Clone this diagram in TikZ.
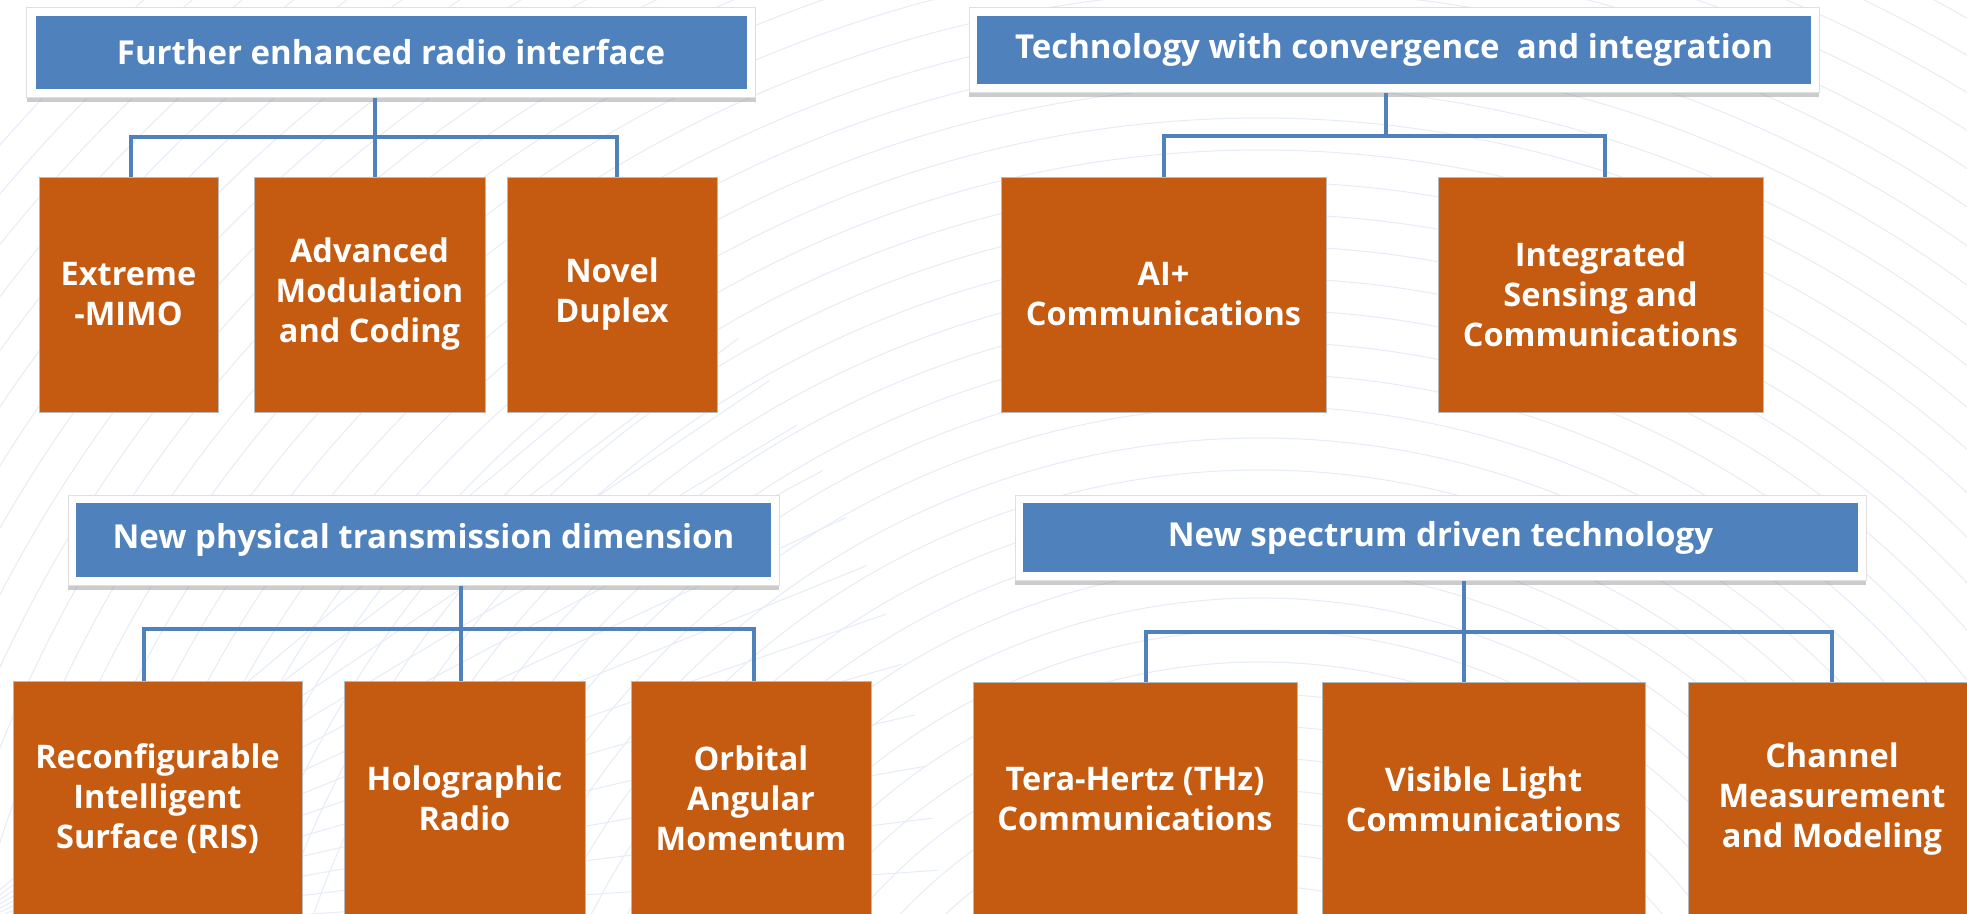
\documentclass[tikz,border=0pt]{standalone}
\usepackage{fontspec}
\setmainfont{Open Sans}
\usetikzlibrary{shadows}

\definecolor{hdrblue}{HTML}{4F81BD}
\definecolor{techorange}{HTML}{C55A11}
\definecolor{wave}{HTML}{E6ECF7}

\begin{document}
\begin{tikzpicture}[x=1pt, y=-1pt,
  frame/.style={rectangle, fill=white, draw=gray!25, line width=1pt,
    drop shadow={shadow xshift=0pt, shadow yshift=-5pt, opacity=0.4}},
  hdr/.style={rectangle, fill=hdrblue, text=white, align=center,
    font=\fontsize{33}{40}\selectfont\bfseries, inner sep=0pt},
  tech/.style={rectangle, fill=techorange, draw=gray!55, line width=0.8pt,
    text=white, align=center, minimum height=235pt, inner sep=0pt,
    font=\fontsize{32.5}{40}\selectfont\bfseries},
  conn/.style={draw=hdrblue, line width=4pt},
  wavy/.style={draw=wave, line width=1pt},
]
\useasboundingbox (0,0) rectangle (1967,913);
\fill[white] (0,0) rectangle (1967,913);

% Faint background waves
\begin{scope}
  \clip (0,0) rectangle (1967,913);
  \foreach \r in {300,332,...,1700}
    \draw[wavy] (1260,1250) circle[radius=\r];
  \foreach \a in {4,7,...,40}
    \draw[wavy] (-60,940) -- ++(-\a:1000);
\end{scope}

% Further enhanced radio interface
\node[frame, minimum width=729pt, minimum height=90pt] (fTL) at (391,52) {};
\node[hdr, minimum width=711pt, minimum height=73pt] (hTL) at (fTL)
  {Further enhanced radio interface};
\node[tech, minimum width=179pt] (tl1) at (128.5,294.5) {Extreme\\-MIMO};
\node[tech, minimum width=231pt] (tl2) at (369.5,294.5) {Advanced\\Modulation\\and Coding};
\node[tech, minimum width=210pt] (tl3) at (612,294.5) {Novel\\Duplex};

% Technology with convergence and integration
\node[frame, minimum width=850pt, minimum height=85pt] (fTR) at (1394,49.5) {};
\node[hdr, minimum width=834pt, minimum height=68pt] (hTR) at (fTR)
  {Technology with convergence \ and integration};
\node[tech, minimum width=325pt] (tr1) at (1163.5,294.5) {AI+\\Communications};
\node[tech, minimum width=325pt] (tr2) at (1600.5,294.5) {Integrated\\Sensing and\\Communications};

% New physical transmission dimension
\node[frame, minimum width=711pt, minimum height=90pt] (fBL) at (423.5,540) {};
\node[hdr, minimum width=695pt, minimum height=74pt] (hBL) at (fBL)
  {New physical transmission dimension};
\node[tech, minimum width=289pt] (bl1) at (157.5,798.5) {Reconfigurable\\Intelligent\\Surface (RIS)};
\node[tech, minimum width=241pt] (bl2) at (464.5,798.5) {Holographic\\Radio};
\node[tech, minimum width=240pt] (bl3) at (751,798.5) {Orbital\\Angular\\Momentum};

% New spectrum driven technology
\node[frame, minimum width=851pt, minimum height=85pt] (fBR) at (1440.5,537.5) {};
\node[hdr, minimum width=835pt, minimum height=69pt] (hBR) at (fBR)
  {New spectrum driven technology};
\node[tech, minimum width=324pt] (br1) at (1135,799.5) {Tera-Hertz (THz)\\Communications};
\node[tech, minimum width=323pt] (br2) at (1483.5,799.5) {Visible Light\\Communications};
\node[tech, minimum width=288pt] (br3) at (1832,799.5) {Channel\\Measurement\\and Modeling};

% Tree connectors
\coordinate (jTL) at (375,137);
\coordinate (lTL) at (131,137);
\coordinate (rTL) at (617,137);
\draw[conn] (fTL.south -| jTL) -- (jTL |- tl2.north);
\draw[conn] (lTL |- tl1.north) -- (lTL) -- (rTL) -- (rTL |- tl3.north);

\coordinate (jTR) at (1386,136);
\coordinate (lTR) at (1164,136);
\coordinate (rTR) at (1605,136);
\draw[conn] (fTR.south -| jTR) -- (jTR);
\draw[conn] (lTR |- tr1.north) -- (lTR) -- (rTR) -- (rTR |- tr2.north);

\coordinate (jBL) at (461,629);
\coordinate (lBL) at (144,629);
\coordinate (rBL) at (754,629);
\draw[conn] (fBL.south -| jBL) -- (jBL |- bl2.north);
\draw[conn] (lBL |- bl1.north) -- (lBL) -- (rBL) -- (rBL |- bl3.north);

\coordinate (jBR) at (1464,632);
\coordinate (lBR) at (1146,632);
\coordinate (rBR) at (1832,632);
\draw[conn] (fBR.south -| jBR) -- (jBR |- br2.north);
\draw[conn] (lBR |- br1.north) -- (lBR) -- (rBR) -- (rBR |- br3.north);
\end{tikzpicture}
\end{document}
